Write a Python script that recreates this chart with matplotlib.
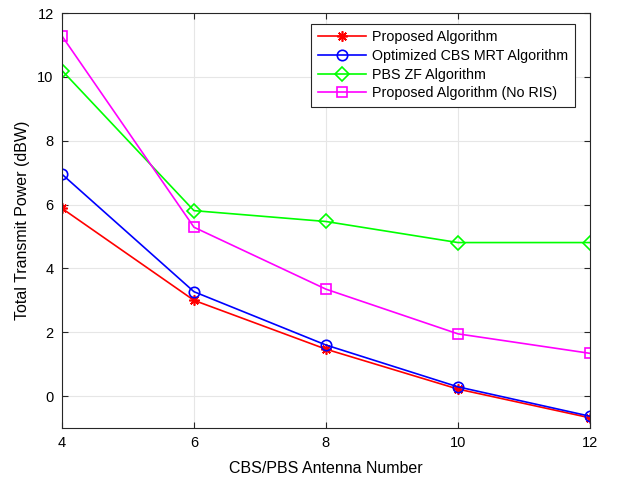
import matplotlib
matplotlib.use("Agg")
import matplotlib.pyplot as plt

antennas = [4, 6, 8, 10, 12]
proposed = [5.88, 3.00, 1.47, 0.22, -0.68]
mrt = [6.95, 3.27, 1.60, 0.29, -0.63]
pbs_zf = [10.20, 5.81, 5.47, 4.81, 4.81]
no_ris = [11.28, 5.29, 3.35, 1.95, 1.34]
labels = ["Proposed Algorithm", "Optimized CBS MRT Algorithm",
          "PBS ZF Algorithm", "Proposed Algorithm (No RIS)"]

plt.rcParams['font.family'] = ['Liberation Sans', 'DejaVu Sans']

fig = plt.figure(figsize=(6.17, 4.84), dpi=100)
ax = fig.add_axes([0.1005, 0.1157, 0.8555, 0.8573])

ax.plot(antennas, proposed, color='#ff0000', marker=(8, 2, 0), ms=7.5, mew=1.2, lw=1.2, label=labels[0])
ax.plot(antennas, mrt, color='#0000ff', marker='o', ms=7.5, mfc='none', mew=1.2, lw=1.2, label=labels[1])
ax.plot(antennas, pbs_zf, color='#00ff00', marker='D', ms=7, mfc='none', mew=1.2, lw=1.2, label=labels[2])
ax.plot(antennas, no_ris, color='#ff00ff', marker='s', ms=7, mfc='none', mew=1.2, lw=1.2, label=labels[3])

ax.set_xlim(4, 12)
ax.set_ylim(-1, 12)
ax.set_xticks([4, 6, 8, 10, 12])
ax.set_yticks([0, 2, 4, 6, 8, 10, 12])
ax.grid(True, color='#e6e6e6', lw=0.8)
ax.set_axisbelow(True)
ax.tick_params(direction='in', top=True, right=True, labelsize=10.5, color='#262626', length=4, pad=6)
for s in ax.spines.values():
    s.set_color('#262626')
    s.set_linewidth(0.8)
ax.set_xlabel('CBS/PBS Antenna Number', fontsize=11.5, labelpad=8)
ax.set_ylabel('Total Transmit Power (dBW)', fontsize=11.5, labelpad=5)

leg = ax.legend(loc='upper right', bbox_to_anchor=(0.971, 0.974), fontsize=10.3,
                fancybox=False, edgecolor='#262626', framealpha=1,
                borderpad=0.45, labelspacing=0.33, handlelength=3.4, handletextpad=0.4, borderaxespad=0)
leg.get_frame().set_linewidth(0.8)

fig.savefig('out.png', dpi=100)
